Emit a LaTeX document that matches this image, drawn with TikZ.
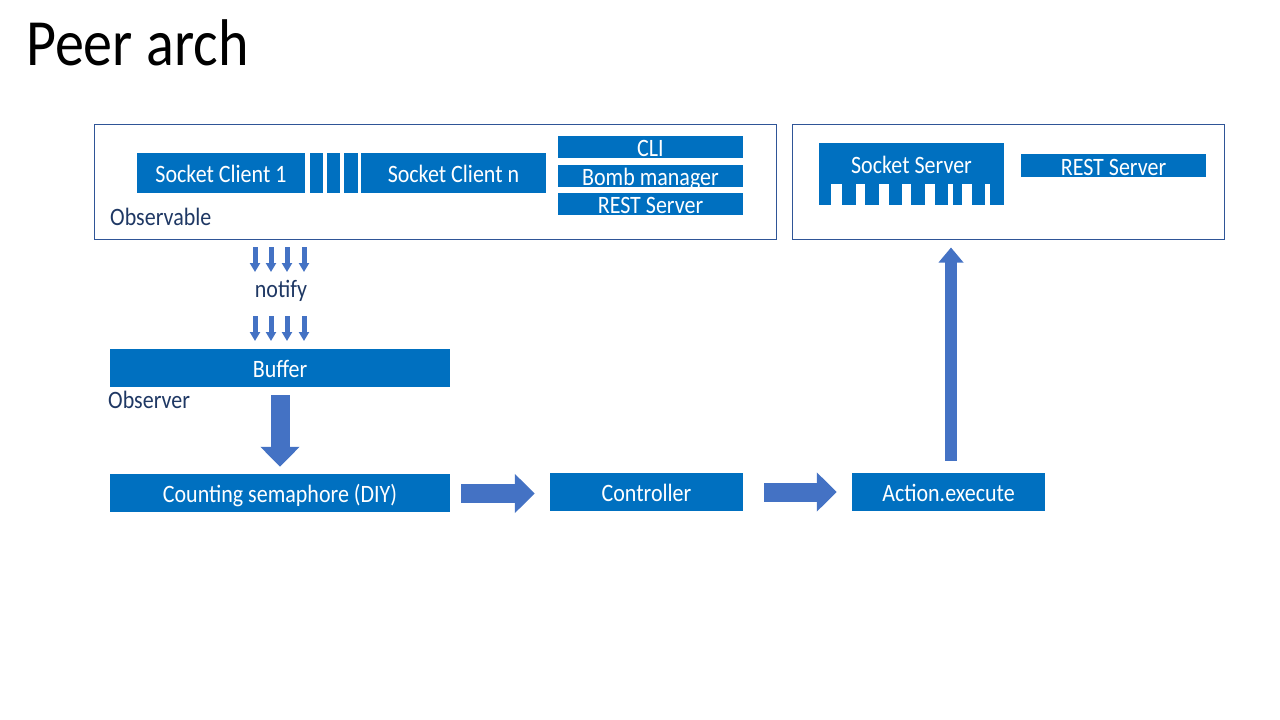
\documentclass[tikz,border=0pt]{standalone}
\usepackage{fontspec}
\setmainfont{Carlito}[FakeStretch=0.88]
\usetikzlibrary{arrows.meta}

\definecolor{boxblue}{HTML}{0070C0}
\definecolor{arrowblue}{HTML}{4472C4}
\definecolor{framecol}{HTML}{2F5597}
\definecolor{inkcol}{HTML}{1F3864}

\tikzset{
  blk/.style={fill=boxblue, text=white, inner sep=0pt, text height=19pt, text depth=0pt, font=\fontsize{25}{30}\selectfont},
  frm/.style={draw=framecol, line width=1pt, inner sep=0pt},
  lbl/.style={text=inkcol, inner sep=0pt, font=\fontsize{25}{30}\selectfont},
  fat/.style={draw=arrowblue, line width=19pt, -{Triangle[width=38pt,length=20pt]}},
  thin arrow/.style={draw=arrowblue, line width=5pt, -{Triangle[width=10pt,length=9pt]}},
  up arrow/.style={draw=arrowblue, line width=12pt, -{Triangle[width=24pt,length=15pt]}}
}

\begin{document}
\begin{tikzpicture}[x=1pt,y=-1pt]
  \useasboundingbox[fill=white] (0,0) rectangle (1280,720);

  % title
  \node[anchor=base west, inner sep=0pt, font=\fontsize{66}{74}\selectfont] (title) at (26,65) {Peer arch};

  % frames
  \node[frm, minimum width=682, minimum height=115] (obs) at (435,181.5) {};
  \node[frm, minimum width=432, minimum height=115] (srvbox) at (1008,181.5) {};

  % observable side
  \node[blk, minimum width=168, minimum height=40] (sc1) at (221,173) {Socket Client 1};
  \foreach \xa/\xb in {310/323, 327/340, 344/358}
    \fill[boxblue] (\xa,153) rectangle (\xb,193);
  \node[blk, minimum width=185, minimum height=40] (scn) at (453.5,173) {Socket Client n};
  \node[blk, minimum width=185, minimum height=22] (cli) at (650.5,147) {CLI};
  \node[blk, minimum width=185, minimum height=22] (bomb) at (650.5,175.5) {Bomb manager};
  \node[blk, minimum width=185, minimum height=22] (rest1) at (650.5,203.5) {REST Server};
  \node[lbl, anchor=west] (obslbl) at (110,217) {Observable};

  % server side
  \node[blk, minimum width=185, minimum height=41] (sock) at (911.5,163.5) {Socket Server};
  \foreach \xa/\xb in {819/831, 842/856, 865/879, 889/902, 911/925, 935/948, 953/962, 972/985, 990/1004}
    \fill[boxblue] (\xa,183.5) rectangle (\xb,205);
  \node[blk, minimum width=185, minimum height=23] (rest2) at (1113.5,165.5) {REST Server};

  % notify
  \node[lbl] (notify) at (281,291) {notify};
  \foreach \x in {255,271,287,304} {
    \draw[thin arrow] (\x,247) -- (\x,272);
    \draw[thin arrow] (\x,316) -- (\x,341);
  }

  % observer chain
  \node[blk, minimum width=340, minimum height=38] (buf) at (280,368) {Buffer};
  \node[lbl, anchor=west] (obsvlbl) at (108,400) {Observer};
  \node[blk, minimum width=340, minimum height=38] (sem) at (280,493) {Counting semaphore (DIY)};
  \node[blk, minimum width=193, minimum height=38] (ctrl) at (646.5,492) {Controller};
  \node[blk, minimum width=193, minimum height=38] (act) at (948.5,492) {Action.execute};

  \draw[fat] ([yshift=-8pt]buf.south) -- ([yshift=7pt]sem.north);
  \draw[fat] ([xshift=11pt,yshift=-0.5pt]sem.east) -- ([xshift=-15pt,yshift=-1.5pt]ctrl.west);
  \draw[fat] ([xshift=21pt]ctrl.east) -- ([xshift=-15pt]act.west);
  \draw[up arrow] ([xshift=2.5pt,yshift=12pt]act.north) -- ([xshift=-57pt,yshift=-8pt]srvbox.south);
\end{tikzpicture}
\end{document}
